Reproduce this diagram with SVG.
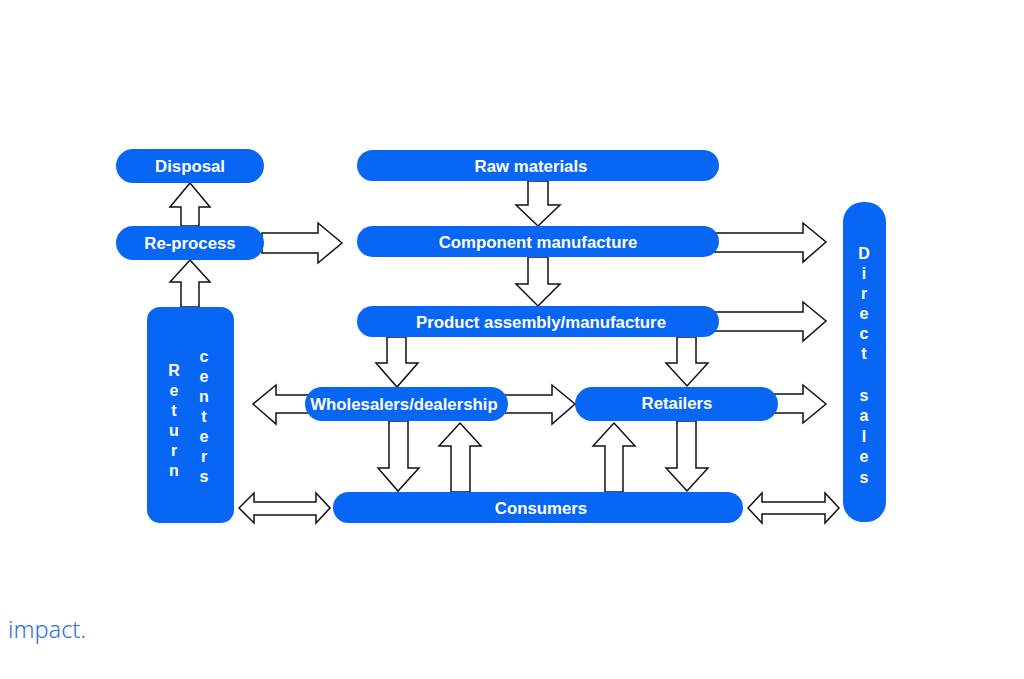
<svg xmlns="http://www.w3.org/2000/svg" width="1024" height="679" viewBox="0 0 1024 679">
<style>
.n{fill:#0866f4}
.t{fill:#fff;font-family:"Liberation Sans",Arial,sans-serif;font-weight:bold;font-size:16.8px;text-anchor:middle}
.v{font-size:16px}
.a{fill:#fff;stroke:#111;stroke-width:1.5;stroke-linejoin:miter}
</style>
<rect width="1024" height="679" fill="#fff"/>
<g id="connectors">
<polygon class="a" points="190,183 210,207 199,207 199,226 181,226 181,207 170,207"/>
<polygon class="a" points="190,260 210,282 199,282 199,307 181,307 181,282 170,282"/>
<polygon class="a" points="262,233 318,233 318,223 342,243 318,263 318,253 262,253"/>
<polygon class="a" points="528,181 548,181 548,205 560,205 538,226 516,205 528,205"/>
<polygon class="a" points="528,257 548,257 548,284 560,284 538,306 516,284 528,284"/>
<polygon class="a" points="710,233 803,233 803,223 826,242 803,262 803,252 710,252"/>
<polygon class="a" points="710,312 803,312 803,302 826,321 803,341 803,331 710,331"/>
<polygon class="a" points="770,394 803,394 803,385 826,404 803,423 803,413 770,413"/>
<polygon class="a" points="748,508 762,493 762,502 825,502 825,493 839,508 825,523 825,514 762,514 762,523"/>
<polygon class="a" points="239,508 254,493 254,502 316,502 316,493 330,508 316,523 316,515 254,515 254,523"/>
<polygon class="a" points="387,337 406,337 406,363 418,363 397,387 376,363 387,363"/>
<polygon class="a" points="313,395 276,395 276,385 253,404 276,424 276,413 313,413"/>
<polygon class="a" points="500,395 552,395 552,385 575,404 552,424 552,413 500,413"/>
<polygon class="a" points="389,421 408,421 408,468 419,468 398,491 378,468 389,468"/>
<polygon class="a" points="460,423 481,446 470,446 470,492 451,492 451,446 439,446"/>
<polygon class="a" points="677,337 696,337 696,363 708,363 687,386 666,363 677,363"/>
<polygon class="a" points="677,421 696,421 696,468 708,468 687,491 666,468 677,468"/>
<polygon class="a" points="614,423 635,446 623,446 623,492 605,492 605,446 593,446"/>
</g>
<g id="disposal"><rect class="n" x="116" y="149" width="148" height="34" rx="17"/><text class="t" x="190" y="172">Disposal</text></g>
<g id="reprocess"><rect class="n" x="116" y="226" width="148" height="34" rx="17"/><text class="t" x="190" y="249">Re-process</text></g>
<g id="raw"><rect class="n" x="357" y="150" width="362" height="31" rx="15.5"/><text class="t" x="531" y="172">Raw materials</text></g>
<g id="component"><rect class="n" x="357" y="226" width="362" height="31" rx="15.5"/><text class="t" x="538" y="248">Component manufacture</text></g>
<g id="product"><rect class="n" x="357" y="306" width="362" height="31" rx="15.5"/><text class="t" x="541" y="328">Product assembly/manufacture</text></g>
<g id="wholesalers"><rect class="n" x="305" y="387" width="203" height="34" rx="17"/><text class="t" x="404" y="410">Wholesalers/dealership</text></g>
<g id="retailers"><rect class="n" x="575" y="387" width="203" height="34" rx="17"/><text class="t" x="677" y="409">Retailers</text></g>
<g id="consumers"><rect class="n" x="333" y="492" width="410" height="31" rx="15.5"/><text class="t" x="541" y="514">Consumers</text></g>
<g id="return"><rect class="n" x="147" y="307" width="87" height="216" rx="13"/>
<text class="t v"><tspan x="174" y="376">R</tspan><tspan x="174" y="396">e</tspan><tspan x="174" y="416">t</tspan><tspan x="174" y="436">u</tspan><tspan x="174" y="456">r</tspan><tspan x="174" y="476">n</tspan></text>
<text class="t v"><tspan x="204" y="362">c</tspan><tspan x="204" y="382">e</tspan><tspan x="204" y="402">n</tspan><tspan x="204" y="422">t</tspan><tspan x="204" y="442">e</tspan><tspan x="204" y="462">r</tspan><tspan x="204" y="482">s</tspan></text></g>
<g id="direct"><rect class="n" x="843" y="202" width="43" height="320" rx="20"/>
<text class="t v"><tspan x="864" y="259">D</tspan><tspan x="864" y="279">i</tspan><tspan x="864" y="299">r</tspan><tspan x="864" y="319">e</tspan><tspan x="864" y="339">c</tspan><tspan x="864" y="359">t</tspan><tspan x="864" y="401">s</tspan><tspan x="864" y="421">a</tspan><tspan x="864" y="442">l</tspan><tspan x="864" y="462">e</tspan><tspan x="864" y="483">s</tspan></text></g>
<text x="8" y="638" font-family="'Noto Sans',sans-serif" font-weight="300" font-size="23.5" fill="#2d6fe6">impact.</text>
</svg>
